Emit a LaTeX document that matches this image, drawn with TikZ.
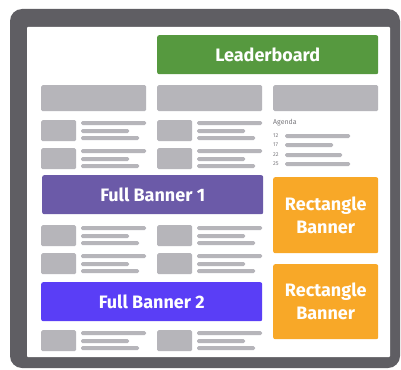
\documentclass[tikz,border=0pt]{standalone}
\usepackage{fontspec}
\setmainfont{Fira Sans}
\usepackage{tikz}
\usetikzlibrary{positioning}
\definecolor{adFrame}{HTML}{5F5E63}
\definecolor{adGrey}{HTML}{B6B5BA}
\definecolor{adText}{HTML}{7A797E}
\definecolor{adGreen}{HTML}{56993F}
\definecolor{adPurple}{HTML}{6B5AA8}
\definecolor{adViolet}{HTML}{5A3EF6}
\definecolor{adOrange}{HTML}{F8A828}

\begin{document}
\begin{tikzpicture}[x=1pt, y=-1pt,
  banner/.style={rectangle,rounded corners=2pt,anchor=north west,inner sep=0pt,
    text=white,font=\bfseries\fontsize{18}{23}\selectfont,align=center},
  block/.style={rectangle,rounded corners=1.5pt,fill=adGrey,anchor=north west,inner sep=0pt},
  bar/.style={fill=adGrey,rounded corners=1.5pt}]
\useasboundingbox (0,0) rectangle (401,369);
% device frame
\fill[adFrame,rounded corners=12pt] (10,9) rectangle (400,368);
\fill[white,rounded corners=1pt] (27,27) rectangle (390,357);
% ad slots
\node[banner,fill=adGreen,minimum width=221pt,minimum height=39pt] (leader) at (157,35) {Leaderboard};
\node[banner,fill=adPurple,minimum width=221pt,minimum height=39pt] (full1) at (42,175) {Full Banner 1};
\node[banner,fill=adViolet,minimum width=221pt,minimum height=39pt] (full2) at (41,282) {Full Banner 2};
\node[banner,fill=adOrange,minimum width=105pt,minimum height=76pt] (rect1) at (273,177) {Rectangle\\Banner};
\node[banner,fill=adOrange,minimum width=105pt,minimum height=75pt] (rect2) at (273,264) {Rectangle\\Banner};
% headline blocks
\foreach \c/\x in {1/41,2/157,3/273}
  \node[block,minimum width=105pt,minimum height=26pt] (head\c) at (\x,85) {};
% article rows
\foreach \c/\x in {1/41,2/157}
  \foreach \r/\y in {1/120,2/148,3/225,4/253,5/330} {
    \node[block,minimum width=35pt,minimum height=21pt] (thumb\c\r) at (\x,\y) {};
    \fill[bar] (\x+40,\y+1) rectangle ++(65,4);
    \fill[bar] (\x+40,\y+9) rectangle ++(48,4);
    \fill[bar] (\x+40,\y+16) rectangle ++(58,4);
  }
% agenda
\node[anchor=west,inner sep=0pt,text=adText,font=\fontsize{7}{8}\selectfont] (agenda) at (273,123) {Agenda};
\foreach \d/\y/\w in {12/136/65,17/145/48,22/155/57,25/164/65} {
  \node[anchor=west,inner sep=0pt,text=adText,font=\fontsize{5.5}{6}\selectfont] (day\d) at (273,\y) {\d};
  \fill[bar] (285,\y-2) rectangle ++(\w,4);
}
\end{tikzpicture}
\end{document}
